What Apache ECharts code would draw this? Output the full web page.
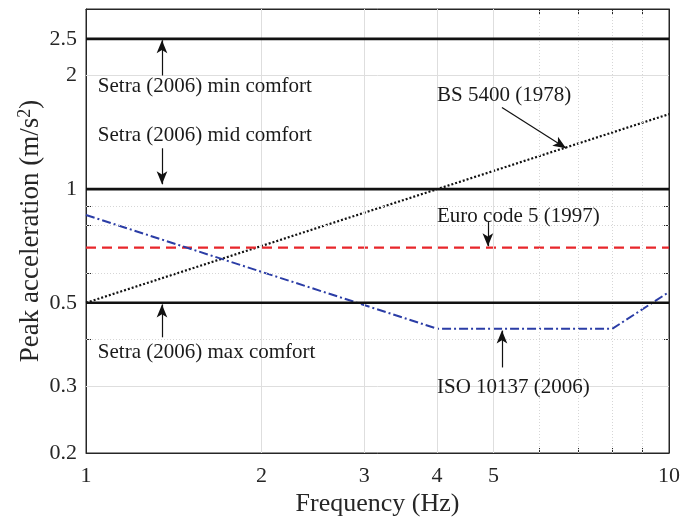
<!DOCTYPE html>
<html><head><meta charset="utf-8">
<script src="https://cdn.jsdelivr.net/npm/echarts@6/dist/echarts.min.js"></script>
<style>html,body{margin:0;padding:0;background:#fff}#c{width:683px;height:522px}</style>
</head><body><div id="c"></div>
<script>
// ---- data ----
const freqTicks = [1, 2, 3, 4, 5, 10];
const freqMinorTicks = [6, 7, 8, 9];
const accTicks = [0.2, 0.3, 0.5, 1, 2, 2.5];
const accMinorTicks = [0.4, 0.6, 0.7, 0.8, 0.9];

const setraFreq = [1, 10];
const setraMinAcc = [2.5, 2.5];
const setraMidAcc = [1, 1];
const setraMaxAcc = [0.5, 0.5];

const bsFreq = [1, 10];
const bsAcc = [0.5, 1.58];

const euroFreq = [1, 10];
const euroAcc = [0.7, 0.7];

const isoFreq = [1, 4, 8, 10];
const isoAcc = [0.854, 0.427, 0.427, 0.534];

const annoTexts = ['Setra (2006) min comfort', 'Setra (2006) mid comfort', 'Setra (2006) max comfort',
  'BS 5400 (1978)', 'Euro code 5 (1997)', 'ISO 10137 (2006)'];
const annoFreq = [1.048, 1.048, 1.048, 4.0, 4.0, 4.0];
const annoAcc = [1.87, 1.388, 0.369, 1.77, 0.844, 0.2985];

const arrowFrom = [[1.35, 2.0], [1.35, 1.283], [1.35, 0.405], [5.17, 1.646], [4.89, 0.818], [5.17, 0.337]];
const arrowTo = [[1.35, 2.48], [1.35, 1.03], [1.35, 0.495], [6.66, 1.283], [4.89, 0.706], [5.17, 0.422]];

const zip = (a, b) => a.map((v, i) => [v, b[i]]);
const FONT = 'Liberation Serif';
const TXT = '#262626';

const chart = echarts.init(document.getElementById('c'), null, {renderer: 'canvas'});

const gridMajor = {color: '#dedede', width: 1, type: 'solid'};
const gridMinor = {color: '#d6d6d6', width: 1, type: [1, 2]};

function lineSeries(name, data, style, z) {
  return {name, type: 'line', data, showSymbol: false, symbol: 'none', lineStyle: style, z: z || 3, silent: true, animation: false};
}

const allTicksX = [2, 3, 4, 5, 6, 7, 8, 9];
const allTicksY = [0.3, 0.4, 0.5, 0.6, 0.7, 0.8, 0.9, 1, 2, 2.5];

const axBase = {
  type: 'log', logBase: 10,
  axisLine: {show: true, lineStyle: {color: '#262626', width: 1}},
  splitLine: {show: false},
  minorTick: {show: false}
};

const option = {
  animation: false,
  grid: {left: 86, right: 14, top: 9, bottom: 69, show: true, borderColor: '#262626', borderWidth: 1},
  xAxis: [
    Object.assign({}, axBase, {
      position: 'bottom', min: 1, max: 10,
      name: 'Frequency (Hz)', nameLocation: 'middle', nameGap: 38, nameMoveOverlap: false,
      nameTextStyle: {fontFamily: FONT, fontSize: 26, color: TXT},
      axisTick: {show: true, inside: true, length: 5, customValues: allTicksX, lineStyle: {color: '#262626'}},
      axisLabel: {show: true, customValues: freqTicks, fontFamily: FONT, fontSize: 22, color: TXT, margin: 12}
    }),
    Object.assign({}, axBase, {
      position: 'top', min: 1, max: 10,
      axisTick: {show: true, inside: true, length: 5, customValues: allTicksX, lineStyle: {color: '#262626'}},
      axisLabel: {show: false}
    })
  ],
  yAxis: [
    Object.assign({}, axBase, {
      position: 'left', min: 0.2, max: 3,
      name: '{a|Peak acceleration (m/s}{s|2}{a|)}', nameLocation: 'middle', nameGap: 40, nameRotate: 90,
      nameMoveOverlap: false,
      nameTextStyle: {
        fontFamily: FONT, fontSize: 27, color: TXT,
        rich: {
          a: {fontFamily: FONT, fontSize: 27, color: TXT, lineHeight: 30},
          s: {fontFamily: FONT, fontSize: 18, color: TXT, verticalAlign: 'top', lineHeight: 30, padding: [0, 0, 12, 0]}
        }
      },
      axisTick: {show: true, inside: true, length: 5, customValues: allTicksY, lineStyle: {color: '#262626'}},
      axisLabel: {show: true, customValues: accTicks, fontFamily: FONT, fontSize: 22, color: TXT, margin: 9}
    }),
    Object.assign({}, axBase, {
      position: 'right', min: 0.2, max: 3,
      axisTick: {show: true, inside: true, length: 5, customValues: allTicksY, lineStyle: {color: '#262626'}},
      axisLabel: {show: false}
    })
  ],
  series: [
    {
      type: 'line', data: [], silent: true, z: 1,
      markLine: {
        silent: true, symbol: 'none', animation: false, label: {show: false},
        data: []
          .concat(freqTicks.filter(v => v > 1 && v < 10).map(v => ({xAxis: v, lineStyle: gridMajor})))
          .concat(freqMinorTicks.map(v => ({xAxis: v, lineStyle: gridMinor})))
          .concat(accTicks.filter(v => v > 0.2).map(v => ({yAxis: v, lineStyle: gridMajor})))
          .concat(accMinorTicks.filter(v => euroAcc.indexOf(v) < 0).map(v => ({yAxis: v, lineStyle: gridMinor})))
      }
    },
    lineSeries('BS 5400', zip(bsFreq, bsAcc), {color: '#111', width: 2.2, type: [2, 2]}, 4),
    lineSeries('Euro code 5', zip(euroFreq, euroAcc), {color: '#e8262b', width: 2.2, type: [10, 6]}, 4),
    lineSeries('ISO 10137', zip(isoFreq, isoAcc), {color: '#2b3da6', width: 2, type: [9, 3, 2, 3]}, 4),
    lineSeries('Setra min', zip(setraFreq, setraMinAcc), {color: '#111', width: 2.6}, 5),
    lineSeries('Setra mid', zip(setraFreq, setraMidAcc), {color: '#111', width: 2.6}, 5),
    lineSeries('Setra max', zip(setraFreq, setraMaxAcc), {color: '#111', width: 2.6}, 5),
    {
      type: 'line', data: [], silent: true, z: 6,
      markLine: {
        silent: true, animation: false, symbol: ['none', 'arrow'], symbolSize: [8, 13],
        label: {show: false},
        lineStyle: {color: '#111', width: 1.2, type: 'solid'},
        data: arrowFrom.map((p, i) => [{coord: p}, {coord: arrowTo[i]}])
      }
    }
  ]
};
chart.setOption(option);

const graphics = annoTexts.map((t, i) => {
  const p = chart.convertToPixel({gridIndex: 0}, [annoFreq[i], annoAcc[i]]);
  return {
    type: 'text', x: p[0], y: p[1], z: 100,
    style: {text: t, fontFamily: FONT, fontSize: 21, fill: '#1a1a1a', textAlign: 'left', textVerticalAlign: 'middle'}
  };
});
chart.setOption({graphic: graphics});
</script>
</body></html>
